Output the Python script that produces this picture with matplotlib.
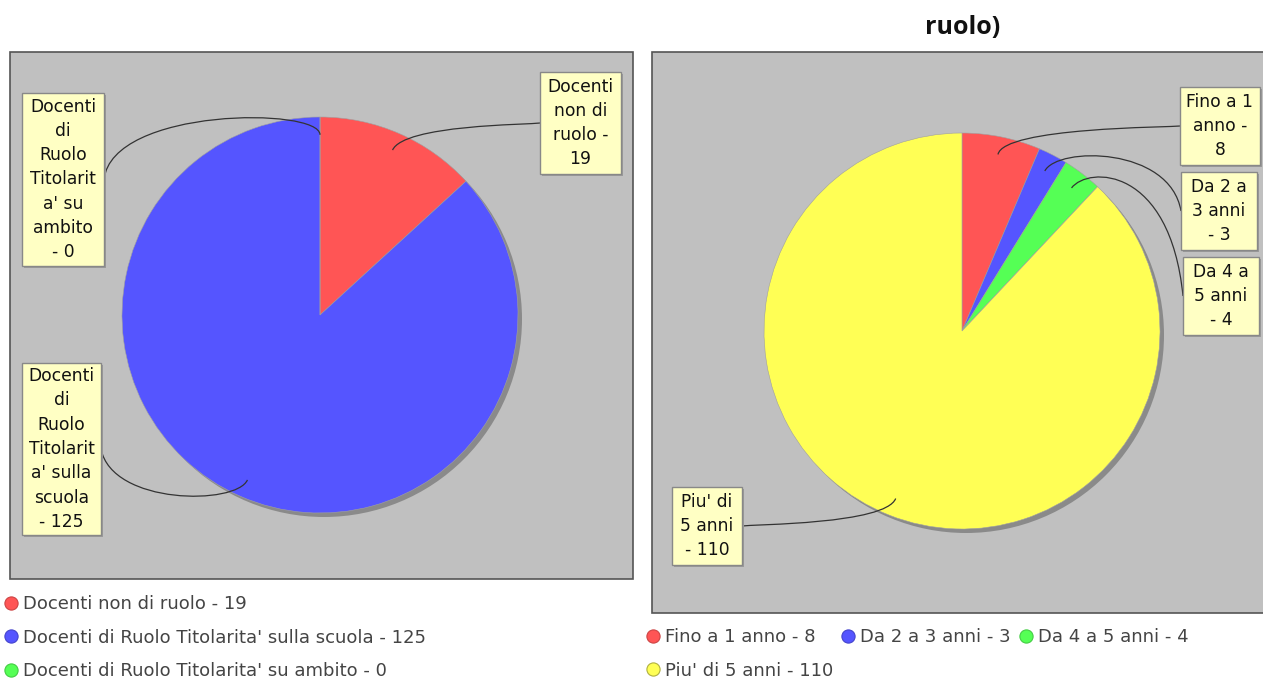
import numpy as np
import matplotlib
matplotlib.use('Agg')
import matplotlib.pyplot as plt
from matplotlib.patches import Rectangle, Circle, PathPatch
from matplotlib.path import Path
from matplotlib.lines import Line2D

plt.rcParams['font.family'] = 'DejaVu Sans'

W, H = 1263, 682

# left pie: docenti per tipo di contratto
tipo_labels = ['Docenti non di ruolo',
               "Docenti di Ruolo Titolarita' sulla scuola",
               "Docenti di Ruolo Titolarita' su ambito"]
tipo_values = [19, 125, 0]
tipo_box_text = ['Docenti\nnon di\nruolo -\n19',
                 "Docenti\ndi\nRuolo\nTitolarit\na' sulla\nscuola\n- 125",
                 "Docenti\ndi\nRuolo\nTitolarit\na' su\nambito\n- 0"]

# right pie: anni di servizio
anni_labels = ['Fino a 1 anno', 'Da 2 a 3 anni', 'Da 4 a 5 anni', "Piu' di 5 anni"]
anni_values = [8, 3, 4, 110]
anni_box_text = ['Fino a 1\nanno -\n8', 'Da 2 a\n3 anni\n- 3',
                 'Da 4 a\n5 anni\n- 4', "Piu' di\n5 anni\n- 110"]

colors = ['#ff5555', '#5555ff', '#55ff55', '#ffff55']
edge_colors = ['#cc4444', '#4444cc', '#44cc44', '#b0b040']

# label boxes (center x, center y, width, height) in pixels from top-left
tipo_boxes = [(580.5, 123, 81, 102), (61.5, 449, 79, 172), (63, 179.5, 82, 173)]
anni_boxes = [(1220, 126, 80, 78), (1219, 211, 76, 78), (1221, 296, 76, 78), (707, 526, 70, 78)]

fig = plt.figure(figsize=(W / 100, H / 100), dpi=100)
ax = fig.add_axes([0, 0, 1, 1])


def panel(x0, y0, x1, y1):
    ax.add_patch(Rectangle((x0, H - y1), x1 - x0, y1 - y0, facecolor='#c0c0c0',
                           edgecolor='#555555', linewidth=1.2, zorder=0))


def draw_pie(values, cols, cx, cy, r, boxes, texts):
    ax.add_patch(Circle((cx + 4, H - cy - 4), r, facecolor='#8a8a8a', edgecolor='none', zorder=0.5))
    ax.pie(values, colors=cols, startangle=90, counterclock=False, radius=r,
           center=(cx, H - cy), frame=True,
           wedgeprops=dict(linewidth=0.4, edgecolor='#a0a0a0'))
    total = float(sum(values))
    start = 90.0
    R = 1.05 * r
    for v, (bx, by, bw, bh), t in zip(values, boxes, texts):
        ang = np.radians(start - v / total * 180.0)
        start -= v / total * 360.0
        lx, ly = cx + 0.91 * r * np.cos(ang), cy - 0.91 * r * np.sin(ang)
        ex, ey = cx + R * np.cos(ang), cy - R * np.sin(ang)
        if bx > cx:
            ax_, tx = cx + R, bx - bw / 2
        else:
            ax_, tx = cx - R, bx + bw / 2
        verts = [(tx, H - by), (ax_, H - ey), (ex, H - ey), (lx, H - ly)]
        path = Path(verts, [Path.MOVETO, Path.CURVE4, Path.CURVE4, Path.CURVE4])
        ax.add_patch(PathPatch(path, facecolor='none', edgecolor='#333333',
                               linewidth=0.9, zorder=3))
        # label box with small shadow
        ax.add_patch(Rectangle((bx - bw / 2 + 2, H - by - bh / 2 - 2), bw, bh,
                               facecolor='#9a9a9a', edgecolor='none', zorder=4))
        ax.add_patch(Rectangle((bx - bw / 2, H - by - bh / 2), bw, bh,
                               facecolor='#ffffc4', edgecolor='#888888',
                               linewidth=1, zorder=5))
        ax.text(bx, H - by, t, ha='center', va='center', multialignment='center',
                fontsize=12.3, linespacing=1.45, color='#111111', zorder=6)


panel(10, 52, 633, 579)
panel(652, 52, 1275, 613)
draw_pie(tipo_values, colors[:3], 320, 315, 198, tipo_boxes, tipo_box_text)
draw_pie(anni_values, colors, 962, 331, 198, anni_boxes, anni_box_text)

ax.set_xlim(0, W)
ax.set_ylim(0, H)
ax.axis('off')

fig.text(963 / W, 1 - 27 / H, 'ruolo)', ha='center', va='center',
         fontsize=18, fontweight='bold', family='Open Sans', color='#111111')


def handle(i):
    return Line2D([], [], marker='o', linestyle='', markersize=9.5,
                  markerfacecolor=colors[i], markeredgecolor=edge_colors[i], markeredgewidth=0.8)


leg1 = fig.legend([handle(i) for i in range(3)],
                  [f'{l} - {v}' for l, v in zip(tipo_labels, tipo_values)],
                  loc='upper left', bbox_to_anchor=(4 / W, 1 - 595 / H),
                  frameon=False, fontsize=13, labelcolor='#444444',
                  handlelength=0.75, handletextpad=0.3, labelspacing=0.87,
                  borderpad=0, borderaxespad=0)

order = [0, 3, 1, 2]
leg2 = fig.legend([handle(i) for i in order],
                  [f'{anni_labels[i]} - {anni_values[i]}' for i in order],
                  loc='upper left', bbox_to_anchor=(646 / W, 1 - 628 / H), ncol=3,
                  frameon=False, fontsize=13, labelcolor='#444444',
                  handlelength=0.75, handletextpad=0.3, labelspacing=0.87,
                  columnspacing=0.45, borderpad=0, borderaxespad=0)

fig.savefig('out.png', dpi=100)
